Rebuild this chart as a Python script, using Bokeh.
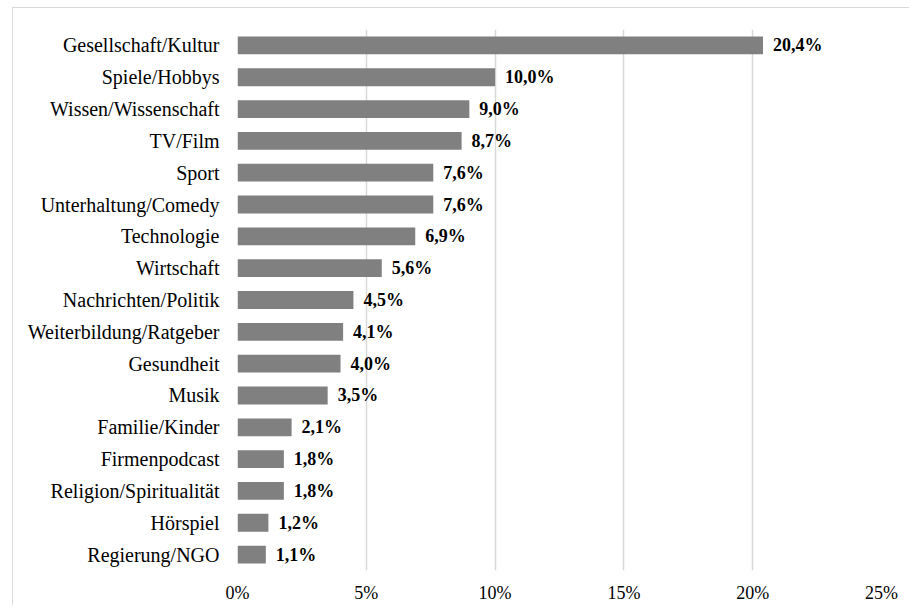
from bokeh.plotting import figure
from bokeh.models import FactorRange, Range1d, FixedTicker
from bokeh.core.properties import value
from bokeh.embed import file_html
from bokeh.resources import INLINE

categories = ["Gesellschaft/Kultur", "Spiele/Hobbys", "Wissen/Wissenschaft", "TV/Film", "Sport",
              "Unterhaltung/Comedy", "Technologie", "Wirtschaft", "Nachrichten/Politik",
              "Weiterbildung/Ratgeber", "Gesundheit", "Musik", "Familie/Kinder", "Firmenpodcast",
              "Religion/Spiritualität", "Hörspiel", "Regierung/NGO"]
shares = [20.4, 10.0, 9.0, 8.7, 7.6, 7.6, 6.9, 5.6, 4.5, 4.1, 4.0, 3.5, 2.1, 1.8, 1.8, 1.2, 1.1]
x_ticks = [0, 5, 10, 15, 20, 25]
x_tick_labels = ["0%", "5%", "10%", "15%", "20%", "25%"]

labels = [f"{v:.1f}%".replace(".", ",") for v in shares]
FONT = "Liberation Serif"

p = figure(width=909, height=605, output_backend="svg", toolbar_location=None,
           y_range=FactorRange(factors=list(reversed(categories)), range_padding=0),
           x_range=Range1d(0, 25),
           min_border_left=237, min_border_right=28, min_border_top=29, min_border_bottom=30)
p.border_fill_color = None
p.background_fill_color = None
p.styles = {
    "background": "linear-gradient(#d9d9d9,#d9d9d9) 12px 7px / 1px 100% no-repeat, "
                  "linear-gradient(#d9d9d9,#d9d9d9) 12px 7px / 100% 1px no-repeat, white",
}
p.outline_line_color = None

p.hbar(y=categories, right=shares, left=0, height=0.56, fill_color="#808080", line_color=None)
p.text(x=shares, y=categories, text=labels, x_offset=10, text_baseline="middle",
       text_font=value(FONT), text_font_style="bold", text_font_size="18px", text_color="black")

p.ygrid.grid_line_color = None
p.xgrid.grid_line_color = "#d9d9d9"
p.xgrid.grid_line_width = 1.5
p.xaxis.ticker = FixedTicker(ticks=x_ticks)
p.xaxis.major_label_overrides = {t: l for t, l in zip(x_ticks, x_tick_labels)}
for ax in (p.xaxis, p.yaxis):
    ax.axis_line_color = None
    ax.major_tick_line_color = None
    ax.minor_tick_line_color = None
    ax.major_label_text_font = FONT
    ax.major_label_text_color = "black"
p.xaxis.major_label_text_font_size = "18px"
p.yaxis.major_label_text_font_size = "20px"
p.xaxis.major_label_standoff = 6
p.yaxis.major_label_standoff = 12

open("out.html", "w").write(file_html(p, INLINE))
